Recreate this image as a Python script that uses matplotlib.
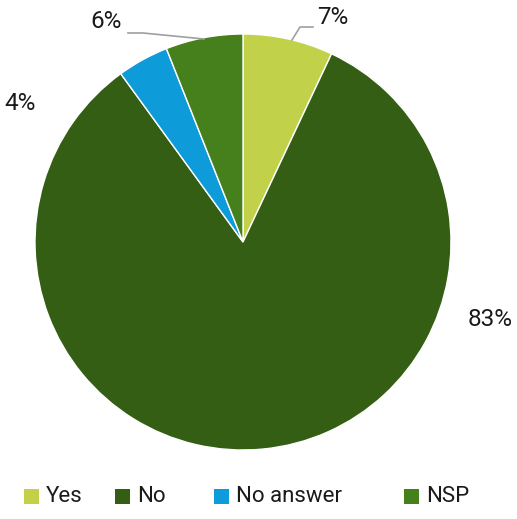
import matplotlib.pyplot as plt
from matplotlib.patches import Rectangle

# data
labels = ['Yes', 'No', 'No answer', 'NSP']
values = [7, 83, 4, 6]
colors = ['#c2d14a', '#335e13', '#0d9cd9', '#45801d']

# label positions (image pixels, y from top)
label_pos = [(333, 18), (490, 320), (20, 103), (106, 21)]
leaders = {0: [(292, 40), (300, 27), (313, 27)],
           3: [(204, 39), (143, 33), (128, 33)]}
legend_x = [24, 115, 214, 404]
legend_y = 496

W, H = 517, 519
plt.rcParams['font.family'] = ['Roboto', 'DejaVu Sans']

fig = plt.figure(figsize=(W / 100, H / 100), dpi=100)
ax = fig.add_axes([0, 0, 1, 1])

ax.pie(values, colors=colors, startangle=90, counterclock=False,
       center=(243, H - 242), radius=208, frame=True,
       wedgeprops=dict(edgecolor='white', linewidth=1))
ax.set_xlim(0, W)
ax.set_ylim(0, H)
ax.set_aspect('auto')
ax.axis('off')

for i, v in enumerate(values):
    x, y = label_pos[i]
    ax.text(x, H - y, f'{v}%', fontsize=17.5, color='#1a1a1a',
            ha='center', va='center')
for i, pts in leaders.items():
    ax.plot([p[0] for p in pts], [H - p[1] for p in pts],
            color='#a0a0a0', lw=1.2)

for lab, col, x in zip(labels, colors, legend_x):
    ax.add_patch(Rectangle((x, H - legend_y - 7.5), 15, 15,
                           facecolor=col, edgecolor='none'))
    ax.text(x + 22, H - legend_y, lab, fontsize=16, color='#1a1a1a',
            ha='left', va='center')

fig.savefig('out.png', dpi=100)
